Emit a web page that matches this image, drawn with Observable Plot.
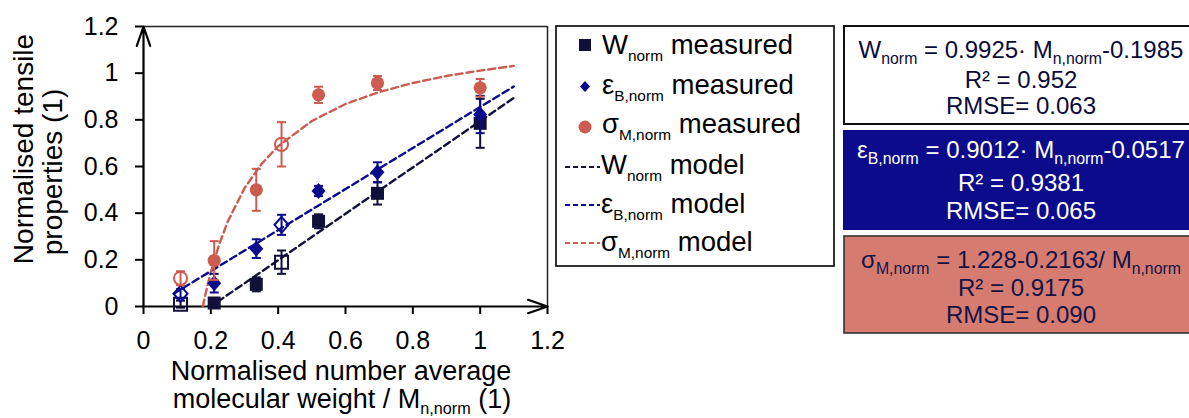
<!DOCTYPE html>
<html>
<head>
<meta charset="utf-8">
<script src="https://cdn.jsdelivr.net/npm/d3@7"></script>
<script src="https://cdn.jsdelivr.net/npm/@observablehq/plot@0.6"></script>
<style>
html,body{margin:0;padding:0;background:#fff;}
#wrap{position:relative;width:1189px;height:418px;overflow:hidden;font-family:"Liberation Sans",Arial,Helvetica,sans-serif;}
#wrap > svg{position:absolute;left:0;top:0;}
</style>
</head>
<body>
<div id="wrap"></div>
<script>
// ---------- data ----------
const xTicks = [0, 0.2, 0.4, 0.6, 0.8, 1, 1.2];
const xTickLabels = ["0", "0.2", "0.4", "0.6", "0.8", "1", "1.2"];
const yTicks = [0, 0.2, 0.4, 0.6, 0.8, 1, 1.2];
const yTickLabels = ["0", "0.2", "0.4", "0.6", "0.8", "1", "1.2"];

const mnNorm  = [0.11, 0.21, 0.335, 0.41, 0.52, 0.695, 1.0];
const isOpen  = [true, false, false, true, false, false, false];
const wNorm   = [0.010, 0.015, 0.095, 0.190, 0.365, 0.485, 0.785];
const wErr    = [0.015, 0.015, 0.030, 0.050, 0.030, 0.048, 0.105];
const epsNorm = [0.055, 0.100, 0.248, 0.350, 0.495, 0.575, 0.823];
const epsErr  = [0.020, 0.040, 0.040, 0.043, 0.022, 0.043, 0.080];
const sigNorm = [0.121, 0.197, 0.500, 0.695, 0.907, 0.958, 0.937];
const sigErr  = [0.030, 0.083, 0.090, 0.095, 0.035, 0.030, 0.038];

const wModelX   = [0.22, 1.1];
const wModelY   = [0.02, 0.894];
const epsModelX = [0.09, 1.1];
const epsModelY = [0.055, 0.943];
const sigModelX = [0.176, 0.18, 0.19, 0.2, 0.225, 0.25, 0.3, 0.35, 0.4, 0.5, 0.6, 0.7, 0.8, 0.9, 1.0, 1.1];
const sigModelY = [0.0, 0.026, 0.09, 0.147, 0.267, 0.363, 0.507, 0.61, 0.687, 0.795, 0.868, 0.919, 0.958, 0.988, 1.011, 1.031];

// ---------- styling ----------
const cW = "#10103a", cE = "#0a0a8c", cS = "#cc5b50";
const boxBlue = "#0b0b8b", boxRed = "#d57b70";

const rowsOf = (ys, errs) => mnNorm.map((x, i) => ({x, y: ys[i], err: errs[i], open: isOpen[i]}));
const lineOf = (xs, ys) => xs.map((x, i) => ({x, y: ys[i]}));

const squareSym = {draw(ctx) { ctx.rect(-6.5, -6.5, 13, 13); }};
const diamondSym = {draw(ctx) { ctx.moveTo(0, -8); ctx.lineTo(7, 0); ctx.lineTo(0, 8); ctx.lineTo(-7, 0); ctx.closePath(); }};
const circleSym = {draw(ctx) { ctx.moveTo(6.6, 0); ctx.arc(0, 0, 6.6, 0, 2 * Math.PI); ctx.closePath(); }};
const capSym = {draw(ctx) { ctx.moveTo(-4.5, 0); ctx.lineTo(4.5, 0); }};

function seriesMarks(data, color, sym) {
  const filled = data.filter(d => !d.open), open = data.filter(d => d.open);
  return [
    Plot.ruleX(data, {x: "x", y1: d => d.y - d.err, y2: d => d.y + d.err, stroke: color, strokeWidth: 2}),
    Plot.dot(data, {x: "x", y: d => d.y - d.err, symbol: capSym, r: 5, fill: "none", stroke: color, strokeWidth: 2}),
    Plot.dot(data, {x: "x", y: d => d.y + d.err, symbol: capSym, r: 5, fill: "none", stroke: color, strokeWidth: 2}),
    Plot.dot(filled, {x: "x", y: "y", symbol: sym, r: 6, fill: color, stroke: "none"}),
    Plot.dot(open, {x: "x", y: "y", symbol: sym, r: 6, fill: "none", stroke: color, strokeWidth: 2})
  ];
}
const dash = "7,4";

const plot = Plot.plot({
  width: 1189, height: 418,
  marginLeft: 143, marginRight: 642, marginTop: 26, marginBottom: 112,
  x: {domain: [0, 1.2]},
  y: {domain: [0, 1.2]},
  style: {fontFamily: "'Liberation Sans', Arial, sans-serif", fontSize: "25px", color: "#000", background: "transparent", overflow: "visible"},
  marks: [
    Plot.axisX({ticks: xTicks, tickFormat: d => xTickLabels[xTicks.indexOf(d)], tickSize: 8, tickPadding: 17, strokeWidth: 2, label: null}),
    Plot.axisY({ticks: yTicks, tickFormat: d => yTickLabels[yTicks.indexOf(d)], tickSize: 8, tickPadding: 17, strokeWidth: 2, label: null}),
    Plot.ruleY([1.2], {stroke: "#222", strokeWidth: 1.5}),
    Plot.ruleX([1.2], {stroke: "#222", strokeWidth: 1.5}),
    Plot.arrow([{x1: 0, y1: 0, x2: 1.2, y2: 0}, {x1: 0, y1: 0, x2: 0, y2: 1.2}],
      {x1: "x1", y1: "y1", x2: "x2", y2: "y2", stroke: "#000", strokeWidth: 2.2, headLength: 14, headAngle: 38}),
    Plot.line(lineOf(wModelX, wModelY), {x: "x", y: "y", stroke: cW, strokeWidth: 2.4, strokeDasharray: dash}),
    Plot.line(lineOf(epsModelX, epsModelY), {x: "x", y: "y", stroke: cE, strokeWidth: 2.4, strokeDasharray: dash}),
    Plot.line(lineOf(sigModelX, sigModelY), {x: "x", y: "y", stroke: cS, strokeWidth: 2.4, strokeDasharray: dash}),
    ...seriesMarks(rowsOf(wNorm, wErr), cW, squareSym),
    ...seriesMarks(rowsOf(epsNorm, epsErr), cE, diamondSym),
    ...seriesMarks(rowsOf(sigNorm, sigErr), cS, circleSym)
  ]
});
const wrap = document.getElementById("wrap");
wrap.appendChild(plot);

// ---------- overlay: axis titles, legend, equation boxes ----------
const ov = d3.select(wrap).append("svg").attr("width", 1189).attr("height", 418)
  .style("pointer-events", "none").attr("font-family", "'Liberation Sans', Arial, sans-serif");

function rich(g, x, y, parts, o = {}) {
  const size = o.size || 24;
  const subR = o.subRatio || 0.62;
  const t = g.append("text").attr("x", x).attr("y", y).attr("font-size", size)
    .attr("fill", o.fill || "#000").attr("text-anchor", o.anchor || "start");
  if (o.transform) t.attr("transform", o.transform);
  let down = false;
  const sh = size * 0.24;
  parts.forEach(p => {
    const isSub = typeof p === "object";
    const s = t.append("tspan").text(isSub ? p.sub : p);
    if (isSub) { s.attr("font-size", size * subR); if (!down) { s.attr("dy", sh); down = true; } }
    else if (down) { s.attr("dy", -sh); down = false; }
  });
  return t;
}

// axis titles
rich(ov, 0, 0, ["Normalised tensile"], {size: 28, anchor: "middle", transform: "translate(33,149) rotate(-90)"});
rich(ov, 0, 0, ["properties (1)"], {size: 28, anchor: "middle", transform: "translate(62,172) rotate(-90)"});
rich(ov, 341, 380, ["Normalised number average"], {size: 27, anchor: "middle"});
rich(ov, 342, 408, ["molecular weight / M", {sub: "n,norm"}, " (1)"], {size: 27, anchor: "middle", subRatio: 0.6});

// legend
ov.append("rect").attr("x", 556).attr("y", 26).attr("width", 278).attr("height", 240)
  .attr("fill", "#fff").attr("stroke", "#000").attr("stroke-width", 1.6);
ov.append("rect").attr("x", 579).attr("y", 39).attr("width", 12).attr("height", 12).attr("fill", cW);
ov.append("path").attr("d", "M585,81 L590,86.5 L585,92 L580,86.5 Z").attr("fill", cE);
ov.append("circle").attr("cx", 585).attr("cy", 127).attr("r", 6.5).attr("fill", cS);
[[167, cW], [205, cE], [243, cS]].forEach(([y, c]) =>
  ov.append("line").attr("x1", 565).attr("x2", 600).attr("y1", y).attr("y2", y)
    .attr("stroke", c).attr("stroke-width", 2).attr("stroke-dasharray", "5,3"));
const lg = 27.5, lgSub = 0.56;
rich(ov, 602, 54, ["W", {sub: "norm"}, " measured"], {size: lg, subRatio: lgSub});
rich(ov, 602, 94, ["ε", {sub: "B,norm"}, " measured"], {size: lg, subRatio: lgSub});
rich(ov, 602, 133, ["σ", {sub: "M,norm"}, " measured"], {size: lg, subRatio: lgSub});
rich(ov, 601, 174, ["W", {sub: "norm"}, " model"], {size: lg, subRatio: lgSub});
rich(ov, 601, 213, ["ε", {sub: "B,norm"}, "  model"], {size: lg, subRatio: lgSub});
rich(ov, 601, 251, ["σ", {sub: "M,norm"}, " model"], {size: lg, subRatio: lgSub});

// equation boxes
ov.append("rect").attr("x", 844).attr("y", 26).attr("width", 360).attr("height", 98)
  .attr("fill", "#fff").attr("stroke", "#111").attr("stroke-width", 2);
ov.append("rect").attr("x", 843).attr("y", 130).attr("width", 360).attr("height", 100)
  .attr("fill", boxBlue);
ov.append("rect").attr("x", 844).attr("y", 236).attr("width", 360).attr("height", 97)
  .attr("fill", boxRed).attr("stroke", "#333").attr("stroke-width", 1.6);
const bx = 1021, bs = 24, bSub = 0.66;
const t1 = "#0b0b3b", t3 = "#141446";
rich(ov, bx, 58, ["W", {sub: "norm"}, " = 0.9925· M", {sub: "n,norm"}, "-0.1985"], {size: bs, anchor: "middle", fill: t1, subRatio: bSub});
rich(ov, bx, 88, ["R² = 0.952"], {size: bs, anchor: "middle", fill: t1});
rich(ov, bx, 114, ["RMSE= 0.063"], {size: bs, anchor: "middle", fill: t1});
rich(ov, bx, 158, ["ε", {sub: "B,norm"}, " = 0.9012· M", {sub: "n,norm"}, "-0.0517"], {size: bs, anchor: "middle", fill: "#fff", subRatio: bSub});
rich(ov, bx, 191, ["R² = 0.9381"], {size: bs, anchor: "middle", fill: "#fff"});
rich(ov, bx, 219, ["RMSE= 0.065"], {size: bs, anchor: "middle", fill: "#fff"});
rich(ov, bx, 268, ["σ", {sub: "M,norm"}, " = 1.228-0.2163/ M", {sub: "n,norm"}], {size: bs, anchor: "middle", fill: t3, subRatio: bSub});
rich(ov, bx, 296, ["R² = 0.9175"], {size: bs, anchor: "middle", fill: t3});
rich(ov, bx, 323, ["RMSE= 0.090"], {size: bs, anchor: "middle", fill: t3});
</script>
</body>
</html>
